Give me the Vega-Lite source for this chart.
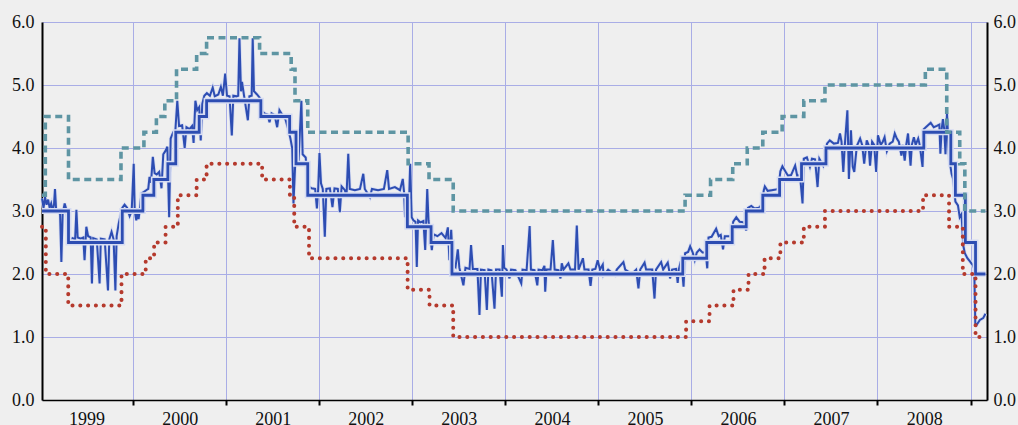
{
"$schema": "https://vega.github.io/schema/vega-lite/v6.json",
"width": 945,
"height": 378,
"autosize": "none",
"padding": {"left": 42, "top": 22, "right": 31, "bottom": 25},
"background": "#efefef",
"config": {"view": {"stroke": null}, "axis": {"labelFont": "Liberation Serif", "labelFontSize": 18, "labelColor": "#111111"}},
"datasets": {
"mro": [
{"d":"1999-01-09","v":3.0},{"d":"1999-04-23","v":2.5},{"d":"1999-11-20","v":3.0},{"d":"2000-02-09","v":3.25},{"d":"2000-03-23","v":3.5},{"d":"2000-05-17","v":3.75},{"d":"2000-06-17","v":4.25},{"d":"2000-09-17","v":4.5},{"d":"2000-10-16","v":4.75},{"d":"2001-05-17","v":4.5},{"d":"2001-09-07","v":4.25},{"d":"2001-10-02","v":3.75},{"d":"2001-11-17","v":3.25},{"d":"2002-12-13","v":2.75},{"d":"2003-03-16","v":2.5},{"d":"2003-06-06","v":2.0},{"d":"2005-11-28","v":2.25},{"d":"2006-03-02","v":2.5},{"d":"2006-06-10","v":2.75},{"d":"2006-08-04","v":3.0},{"d":"2006-10-08","v":3.25},{"d":"2006-12-13","v":3.5},{"d":"2007-03-09","v":3.75},{"d":"2007-06-13","v":4.0},{"d":"2008-07-01","v":4.25},{"d":"2008-10-15","v":3.75},{"d":"2008-11-02","v":3.25},{"d":"2008-12-11","v":2.5},{"d":"2009-01-20","v":2.0},{"d":"2009-02-28","v":2.0}
],
"marginal": [
{"d":"1999-01-09","v":3.25},{"d":"1999-01-22","v":4.5},{"d":"1999-04-23","v":3.5},{"d":"1999-11-15","v":4.0},{"d":"2000-02-13","v":4.25},{"d":"2000-04-02","v":4.5},{"d":"2000-05-05","v":4.75},{"d":"2000-06-20","v":5.25},{"d":"2000-09-07","v":5.5},{"d":"2000-10-16","v":5.75},{"d":"2001-05-12","v":5.5},{"d":"2001-09-13","v":5.25},{"d":"2001-09-28","v":4.75},{"d":"2001-11-17","v":4.25},{"d":"2002-12-16","v":3.75},{"d":"2003-03-08","v":3.5},{"d":"2003-06-11","v":3.0},{"d":"2005-12-07","v":3.25},{"d":"2006-03-17","v":3.5},{"d":"2006-06-12","v":3.75},{"d":"2006-08-08","v":4.0},{"d":"2006-10-08","v":4.25},{"d":"2006-12-23","v":4.5},{"d":"2007-03-18","v":4.75},{"d":"2007-06-09","v":5.0},{"d":"2008-07-07","v":5.25},{"d":"2008-09-29","v":4.25},{"d":"2008-11-19","v":3.75},{"d":"2008-12-09","v":3.0},{"d":"2009-02-28","v":3.0}
],
"deposit": [
{"d":"1999-01-09","v":2.75},{"d":"1999-01-24","v":2.0},{"d":"1999-04-22","v":1.5},{"d":"1999-11-17","v":2.0},{"d":"2000-02-20","v":2.25},{"d":"2000-03-24","v":2.5},{"d":"2000-05-08","v":2.75},{"d":"2000-06-25","v":3.25},{"d":"2000-09-07","v":3.5},{"d":"2000-10-16","v":3.75},{"d":"2001-05-22","v":3.5},{"d":"2001-09-08","v":3.25},{"d":"2001-09-25","v":2.75},{"d":"2001-11-22","v":2.25},{"d":"2002-12-14","v":1.75},{"d":"2003-03-10","v":1.5},{"d":"2003-06-11","v":1.0},{"d":"2005-12-11","v":1.25},{"d":"2006-03-13","v":1.5},{"d":"2006-06-15","v":1.75},{"d":"2006-08-13","v":2.0},{"d":"2006-10-15","v":2.25},{"d":"2006-12-16","v":2.5},{"d":"2007-03-18","v":2.75},{"d":"2007-06-09","v":3.0},{"d":"2008-06-28","v":3.25},{"d":"2008-10-08","v":2.75},{"d":"2008-12-01","v":2.0},{"d":"2009-01-20","v":1.0},{"d":"2009-02-10","v":1.0}
],
"eonia": [
{"d":"1999-01-09","v":3.2},{"d":"1999-01-15","v":3.05},{"d":"1999-01-21","v":3.22},{"d":"1999-01-27","v":3.1},{"d":"1999-02-02","v":3.18},{"d":"1999-02-08","v":3.05},{"d":"1999-02-14","v":3.12},{"d":"1999-02-20","v":3.0},{"d":"1999-02-25","v":3.1},{"d":"1999-03-01","v":3.35},{"d":"1999-03-05","v":3.05},{"d":"1999-03-11","v":3.0},{"d":"1999-03-21","v":2.95},{"d":"1999-03-26","v":2.19},{"d":"1999-03-31","v":2.95},{"d":"1999-04-08","v":3.12},{"d":"1999-04-16","v":3.0},{"d":"1999-04-21","v":2.55},{"d":"1999-04-28","v":2.55},{"d":"1999-05-09","v":2.57},{"d":"1999-05-19","v":2.55},{"d":"1999-05-24","v":3.02},{"d":"1999-05-29","v":2.58},{"d":"1999-06-10","v":2.56},{"d":"1999-06-20","v":2.58},{"d":"1999-06-25","v":2.22},{"d":"1999-07-02","v":2.75},{"d":"1999-07-09","v":2.6},{"d":"1999-07-19","v":2.58},{"d":"1999-07-24","v":1.85},{"d":"1999-07-29","v":2.57},{"d":"1999-08-12","v":2.55},{"d":"1999-08-23","v":1.85},{"d":"1999-08-28","v":2.56},{"d":"1999-09-12","v":2.55},{"d":"1999-09-25","v":1.74},{"d":"1999-09-30","v":2.55},{"d":"1999-10-09","v":2.67},{"d":"1999-10-17","v":2.55},{"d":"1999-10-24","v":1.74},{"d":"1999-10-29","v":2.6},{"d":"1999-11-06","v":2.8},{"d":"1999-11-14","v":2.95},{"d":"1999-11-20","v":3.05},{"d":"1999-11-29","v":3.1},{"d":"1999-12-09","v":3.05},{"d":"1999-12-19","v":2.92},{"d":"1999-12-27","v":3.0},
{"d":"2000-01-04","v":3.75},{"d":"2000-01-08","v":3.0},{"d":"2000-01-14","v":2.85},{"d":"2000-01-19","v":3.0},{"d":"2000-01-23","v":2.87},{"d":"2000-01-29","v":3.05},{"d":"2000-02-03","v":3.28},{"d":"2000-02-12","v":3.3},{"d":"2000-02-22","v":3.33},{"d":"2000-03-01","v":3.35},{"d":"2000-03-06","v":3.54},{"d":"2000-03-12","v":3.45},{"d":"2000-03-19","v":3.86},{"d":"2000-03-26","v":3.6},{"d":"2000-04-03","v":3.58},{"d":"2000-04-13","v":3.62},{"d":"2000-04-22","v":3.36},{"d":"2000-04-29","v":3.9},{"d":"2000-05-07","v":3.95},{"d":"2000-05-15","v":4.02},{"d":"2000-05-22","v":2.9},{"d":"2000-05-28","v":4.15},{"d":"2000-06-07","v":4.25},{"d":"2000-06-15","v":4.25},{"d":"2000-06-23","v":4.75},{"d":"2000-06-30","v":4.35},{"d":"2000-07-12","v":4.36},{"d":"2000-07-22","v":4.0},{"d":"2000-07-29","v":4.33},{"d":"2000-08-10","v":4.3},{"d":"2000-08-20","v":4.35},{"d":"2000-08-26","v":4.08},{"d":"2000-09-02","v":4.75},{"d":"2000-09-09","v":4.6},{"d":"2000-09-17","v":4.65},{"d":"2000-09-23","v":4.12},{"d":"2000-09-29","v":4.7},{"d":"2000-10-07","v":4.83},{"d":"2000-10-17","v":4.87},{"d":"2000-10-29","v":4.83},{"d":"2000-11-09","v":4.96},{"d":"2000-11-17","v":4.82},{"d":"2000-12-01","v":4.85},{"d":"2000-12-11","v":4.97},{"d":"2000-12-19","v":4.83},{"d":"2000-12-28","v":5.18},
{"d":"2001-01-04","v":4.83},{"d":"2001-01-14","v":4.82},{"d":"2001-01-23","v":4.2},{"d":"2001-01-29","v":4.83},{"d":"2001-02-10","v":4.82},{"d":"2001-02-17","v":4.83},{"d":"2001-02-22","v":5.74},{"d":"2001-02-28","v":4.9},{"d":"2001-03-04","v":5.05},{"d":"2001-03-12","v":4.83},{"d":"2001-03-27","v":4.44},{"d":"2001-04-02","v":4.82},{"d":"2001-04-11","v":4.83},{"d":"2001-04-15","v":5.74},{"d":"2001-04-20","v":4.9},{"d":"2001-05-02","v":4.85},{"d":"2001-05-12","v":4.8},{"d":"2001-05-19","v":4.6},{"d":"2001-05-31","v":4.55},{"d":"2001-06-12","v":4.53},{"d":"2001-06-20","v":4.41},{"d":"2001-06-28","v":4.55},{"d":"2001-07-10","v":4.52},{"d":"2001-07-20","v":4.33},{"d":"2001-07-29","v":4.6},{"d":"2001-08-10","v":4.52},{"d":"2001-08-22","v":4.45},{"d":"2001-09-01","v":4.3},{"d":"2001-09-10","v":4.15},{"d":"2001-09-17","v":4.0},{"d":"2001-09-22","v":3.12},{"d":"2001-09-30","v":3.85},{"d":"2001-10-12","v":3.8},{"d":"2001-10-23","v":4.75},{"d":"2001-10-28","v":3.9},{"d":"2001-11-09","v":3.85},{"d":"2001-11-18","v":3.4},{"d":"2001-12-02","v":3.36},{"d":"2001-12-16","v":3.35},{"d":"2001-12-23","v":3.04},{"d":"2001-12-28","v":3.35},
{"d":"2002-01-02","v":3.92},{"d":"2002-01-08","v":3.44},{"d":"2002-01-15","v":3.35},{"d":"2002-01-23","v":2.59},{"d":"2002-01-29","v":3.35},{"d":"2002-02-12","v":3.36},{"d":"2002-02-22","v":3.06},{"d":"2002-03-02","v":3.36},{"d":"2002-03-15","v":3.35},{"d":"2002-03-23","v":2.98},{"d":"2002-03-30","v":3.39},{"d":"2002-04-12","v":3.33},{"d":"2002-04-18","v":3.22},{"d":"2002-04-25","v":3.91},{"d":"2002-05-01","v":3.35},{"d":"2002-05-21","v":3.33},{"d":"2002-06-10","v":3.35},{"d":"2002-06-23","v":3.59},{"d":"2002-06-29","v":3.35},{"d":"2002-07-19","v":3.22},{"d":"2002-07-27","v":3.35},{"d":"2002-08-20","v":3.33},{"d":"2002-09-12","v":3.35},{"d":"2002-09-25","v":3.65},{"d":"2002-10-02","v":3.35},{"d":"2002-10-25","v":3.38},{"d":"2002-11-14","v":3.33},{"d":"2002-11-25","v":3.51},{"d":"2002-11-30","v":3.3},{"d":"2002-12-04","v":2.9},{"d":"2002-12-12","v":3.1},{"d":"2002-12-20","v":3.2},{"d":"2002-12-24","v":3.75},{"d":"2002-12-30","v":2.9},
{"d":"2003-01-06","v":2.85},{"d":"2003-01-14","v":2.83},{"d":"2003-01-19","v":2.11},{"d":"2003-01-24","v":2.85},{"d":"2003-02-02","v":2.82},{"d":"2003-02-14","v":2.84},{"d":"2003-02-21","v":2.38},{"d":"2003-02-25","v":2.85},{"d":"2003-03-01","v":3.35},{"d":"2003-03-06","v":2.85},{"d":"2003-03-12","v":2.62},{"d":"2003-03-19","v":2.38},{"d":"2003-03-26","v":2.63},{"d":"2003-04-10","v":2.6},{"d":"2003-04-26","v":2.65},{"d":"2003-05-12","v":2.57},{"d":"2003-05-21","v":2.74},{"d":"2003-05-27","v":2.22},{"d":"2003-06-03","v":2.7},{"d":"2003-06-10","v":2.15},{"d":"2003-06-20","v":2.11},{"d":"2003-06-29","v":2.39},{"d":"2003-07-05","v":2.1},{"d":"2003-07-21","v":1.82},{"d":"2003-07-29","v":2.1},{"d":"2003-08-14","v":2.08},{"d":"2003-08-20","v":2.46},{"d":"2003-08-27","v":2.08},{"d":"2003-09-14","v":2.08},{"d":"2003-09-22","v":1.35},{"d":"2003-09-28","v":2.07},{"d":"2003-10-12","v":2.06},{"d":"2003-10-21","v":1.43},{"d":"2003-10-27","v":2.07},{"d":"2003-11-08","v":2.06},{"d":"2003-11-20","v":1.45},{"d":"2003-11-26","v":2.07},{"d":"2003-12-10","v":2.07},{"d":"2003-12-19","v":1.64},{"d":"2003-12-23","v":2.46},{"d":"2003-12-28","v":2.1},
{"d":"2004-01-06","v":2.07},{"d":"2004-01-18","v":1.93},{"d":"2004-01-24","v":2.07},{"d":"2004-02-10","v":2.06},{"d":"2004-03-04","v":1.85},{"d":"2004-03-09","v":2.07},{"d":"2004-03-25","v":2.06},{"d":"2004-04-06","v":2.76},{"d":"2004-04-11","v":2.07},{"d":"2004-04-25","v":2.06},{"d":"2004-05-06","v":1.82},{"d":"2004-05-11","v":2.07},{"d":"2004-05-26","v":2.06},{"d":"2004-06-03","v":2.13},{"d":"2004-06-06","v":1.72},{"d":"2004-06-11","v":2.07},{"d":"2004-06-27","v":2.07},{"d":"2004-07-06","v":2.54},{"d":"2004-07-13","v":2.07},{"d":"2004-07-28","v":2.06},{"d":"2004-08-05","v":1.93},{"d":"2004-08-10","v":2.17},{"d":"2004-08-17","v":2.07},{"d":"2004-09-05","v":2.17},{"d":"2004-09-13","v":2.07},{"d":"2004-10-01","v":2.07},{"d":"2004-10-08","v":2.77},{"d":"2004-10-15","v":2.07},{"d":"2004-11-01","v":2.25},{"d":"2004-11-07","v":2.07},{"d":"2004-11-23","v":2.07},{"d":"2004-12-01","v":1.81},{"d":"2004-12-08","v":2.07},{"d":"2004-12-20","v":2.08},{"d":"2004-12-29","v":2.22},
{"d":"2005-01-07","v":2.07},{"d":"2005-01-18","v":2.15},{"d":"2005-01-21","v":1.98},{"d":"2005-02-08","v":2.07},{"d":"2005-03-07","v":1.98},{"d":"2005-03-14","v":2.07},{"d":"2005-04-09","v":2.19},{"d":"2005-04-16","v":2.07},{"d":"2005-05-12","v":2.0},{"d":"2005-05-29","v":2.07},{"d":"2005-06-07","v":1.77},{"d":"2005-06-14","v":2.07},{"d":"2005-07-01","v":2.18},{"d":"2005-07-07","v":2.07},{"d":"2005-07-31","v":2.07},{"d":"2005-08-09","v":1.61},{"d":"2005-08-15","v":2.07},{"d":"2005-09-04","v":2.19},{"d":"2005-09-12","v":2.07},{"d":"2005-09-30","v":2.18},{"d":"2005-10-05","v":2.07},{"d":"2005-10-09","v":1.93},{"d":"2005-10-17","v":2.07},{"d":"2005-11-02","v":2.08},{"d":"2005-11-08","v":1.86},{"d":"2005-11-13","v":2.08},{"d":"2005-11-20","v":2.2},{"d":"2005-11-25","v":2.08},{"d":"2005-12-01","v":1.8},{"d":"2005-12-07","v":2.33},{"d":"2005-12-19","v":2.35},{"d":"2005-12-27","v":2.44},
{"d":"2006-01-06","v":2.34},{"d":"2006-01-14","v":2.22},{"d":"2006-01-22","v":2.34},{"d":"2006-02-02","v":2.39},{"d":"2006-02-14","v":2.34},{"d":"2006-02-26","v":2.34},{"d":"2006-03-04","v":2.09},{"d":"2006-03-09","v":2.58},{"d":"2006-03-21","v":2.59},{"d":"2006-04-08","v":2.72},{"d":"2006-04-18","v":2.6},{"d":"2006-04-26","v":2.62},{"d":"2006-05-05","v":2.39},{"d":"2006-05-12","v":2.6},{"d":"2006-05-27","v":2.6},{"d":"2006-06-06","v":2.6},{"d":"2006-06-14","v":2.83},{"d":"2006-06-26","v":2.9},{"d":"2006-07-09","v":2.83},{"d":"2006-07-25","v":2.82},{"d":"2006-08-04","v":2.69},{"d":"2006-08-11","v":3.05},{"d":"2006-08-24","v":3.08},{"d":"2006-09-06","v":3.04},{"d":"2006-09-22","v":3.05},{"d":"2006-10-04","v":3.1},{"d":"2006-10-12","v":3.33},{"d":"2006-10-16","v":3.39},{"d":"2006-10-27","v":3.32},{"d":"2006-11-12","v":3.33},{"d":"2006-11-28","v":3.34},{"d":"2006-12-08","v":3.35},{"d":"2006-12-16","v":3.63},{"d":"2006-12-24","v":3.71},
{"d":"2007-01-06","v":3.62},{"d":"2007-01-15","v":3.56},{"d":"2007-01-27","v":3.57},{"d":"2007-02-12","v":3.72},{"d":"2007-02-20","v":3.56},{"d":"2007-03-03","v":3.57},{"d":"2007-03-13","v":3.12},{"d":"2007-03-18","v":3.83},{"d":"2007-03-30","v":3.85},{"d":"2007-04-11","v":3.7},{"d":"2007-04-19","v":3.83},{"d":"2007-05-01","v":3.82},{"d":"2007-05-11","v":3.38},{"d":"2007-05-18","v":3.83},{"d":"2007-06-02","v":3.72},{"d":"2007-06-09","v":3.84},{"d":"2007-06-17","v":4.07},{"d":"2007-06-28","v":4.12},{"d":"2007-07-14","v":4.07},{"d":"2007-07-30","v":4.08},{"d":"2007-08-07","v":4.23},{"d":"2007-08-13","v":4.1},{"d":"2007-08-20","v":3.62},{"d":"2007-08-26","v":4.05},{"d":"2007-09-05","v":4.6},{"d":"2007-09-11","v":3.51},{"d":"2007-09-19","v":4.28},{"d":"2007-09-26","v":3.7},{"d":"2007-10-02","v":3.62},{"d":"2007-10-12","v":4.03},{"d":"2007-10-25","v":4.15},{"d":"2007-11-02","v":4.05},{"d":"2007-11-10","v":3.75},{"d":"2007-11-20","v":4.12},{"d":"2007-11-27","v":4.05},{"d":"2007-12-03","v":3.72},{"d":"2007-12-11","v":4.1},{"d":"2007-12-19","v":4.05},{"d":"2007-12-27","v":3.62},
{"d":"2008-01-03","v":4.2},{"d":"2008-01-14","v":4.05},{"d":"2008-01-22","v":4.1},{"d":"2008-01-29","v":4.17},{"d":"2008-02-07","v":3.95},{"d":"2008-02-18","v":4.07},{"d":"2008-03-01","v":4.1},{"d":"2008-03-09","v":4.23},{"d":"2008-03-17","v":4.15},{"d":"2008-03-25","v":4.1},{"d":"2008-04-04","v":3.88},{"d":"2008-04-09","v":4.05},{"d":"2008-04-17","v":3.8},{"d":"2008-04-23","v":4.05},{"d":"2008-04-30","v":4.23},{"d":"2008-05-10","v":3.72},{"d":"2008-05-15","v":4.05},{"d":"2008-05-23","v":4.17},{"d":"2008-05-30","v":4.05},{"d":"2008-06-09","v":4.15},{"d":"2008-06-15","v":4.05},{"d":"2008-06-26","v":3.7},{"d":"2008-07-01","v":4.3},{"d":"2008-07-12","v":4.34},{"d":"2008-07-28","v":4.4},{"d":"2008-08-09","v":4.33},{"d":"2008-08-21","v":4.35},{"d":"2008-08-31","v":4.37},{"d":"2008-09-04","v":3.91},{"d":"2008-09-09","v":4.3},{"d":"2008-09-14","v":4.46},{"d":"2008-09-19","v":4.3},{"d":"2008-09-24","v":3.9},{"d":"2008-09-30","v":4.55},{"d":"2008-10-08","v":3.86},{"d":"2008-10-18","v":3.59},{"d":"2008-10-24","v":3.51},{"d":"2008-11-02","v":3.15},{"d":"2008-11-12","v":3.09},{"d":"2008-11-19","v":2.9},{"d":"2008-11-26","v":2.95},{"d":"2008-12-03","v":2.45},{"d":"2008-12-09","v":2.33},{"d":"2008-12-19","v":2.25},{"d":"2008-12-29","v":2.2},
{"d":"2009-01-09","v":2.14},{"d":"2009-01-15","v":2.08},{"d":"2009-01-19","v":1.22},{"d":"2009-01-24","v":1.19},{"d":"2009-02-06","v":1.27},{"d":"2009-02-19","v":1.3},{"d":"2009-02-28","v":1.37}
]
},
"encoding": {
"x": {"field": "d", "type": "temporal",
 "scale": {"type": "utc", "domain": [{"year": 1999, "month": 1, "date": 9, "utc": true}, {"year": 2009, "month": 3, "date": 6, "utc": true}]},
 "axis": {"title": null,
  "values": [{"year":2000,"month":1,"date":1,"utc":true},{"year":2001,"month":1,"date":1,"utc":true},{"year":2002,"month":1,"date":1,"utc":true},{"year":2003,"month":1,"date":1,"utc":true},{"year":2004,"month":1,"date":1,"utc":true},{"year":2005,"month":1,"date":1,"utc":true},{"year":2006,"month":1,"date":1,"utc":true},{"year":2007,"month":1,"date":1,"utc":true},{"year":2008,"month":1,"date":1,"utc":true},{"year":2009,"month":1,"date":1,"utc":true}],
  "labelExpr": "'' + (utcyear(datum.value) - 1)",
  "labelOffset": -46.4, "labelAlign": "center", "labelFlush": false, "labelOverlap": false, "labelBound": false,
  "grid": true, "gridColor": "#a9ade6", "gridWidth": 1,
  "domainColor": "#000000", "domainWidth": 1.5,
  "tickColor": "#000000", "tickSize": 5, "tickWidth": 2, "labelPadding": 5}},
"y": {"field": "v", "type": "quantitative", "scale": {"domain": [0, 6], "nice": false}, "axis": null}
},
"layer": [
{"data": {"name": "eonia"}, "mark": {"type": "line", "color": "#d6dcf2", "strokeWidth": 3.6},
 "encoding": {"y": {"field": "v", "type": "quantitative", "scale": {"domain": [0, 6], "nice": false},
  "axis": {"orient": "left", "title": null, "values": [0,1,2,3,4,5,6], "format": ".1f", "grid": true, "gridColor": "#a9ade6", "gridWidth": 1, "ticks": false, "domainColor": "#000000", "domainWidth": 2, "labelPadding": 8}}}},
{"data": {"name": "eonia"}, "mark": {"type": "line", "color": "#2d4db2", "strokeWidth": 2},
 "encoding": {"y": {"field": "v", "type": "quantitative", "scale": {"domain": [0, 6], "nice": false},
  "axis": {"orient": "right", "title": null, "values": [0,1,2,3,4,5,6], "format": ".1f", "grid": false, "ticks": false, "domainColor": "#000000", "domainWidth": 2, "labelPadding": 6}}}},
{"data": {"name": "mro"}, "mark": {"type": "line", "interpolate": "step-after", "color": "#d6dcf2", "strokeWidth": 6}},
{"data": {"name": "mro"}, "mark": {"type": "line", "interpolate": "step-after", "color": "#2d4db2", "strokeWidth": 2.8}},
{"data": {"name": "marginal"}, "mark": {"type": "line", "interpolate": "step-after", "color": "#5e95a3", "strokeWidth": 3.6, "strokeDash": [7, 4.5]}},
{"data": {"name": "deposit"}, "mark": {"type": "line", "interpolate": "step-after", "color": "#b53a2d", "strokeWidth": 4, "strokeCap": "round", "strokeDash": [0.1, 7.7]}}
],
"resolve": {"axis": {"y": "independent"}}
}
